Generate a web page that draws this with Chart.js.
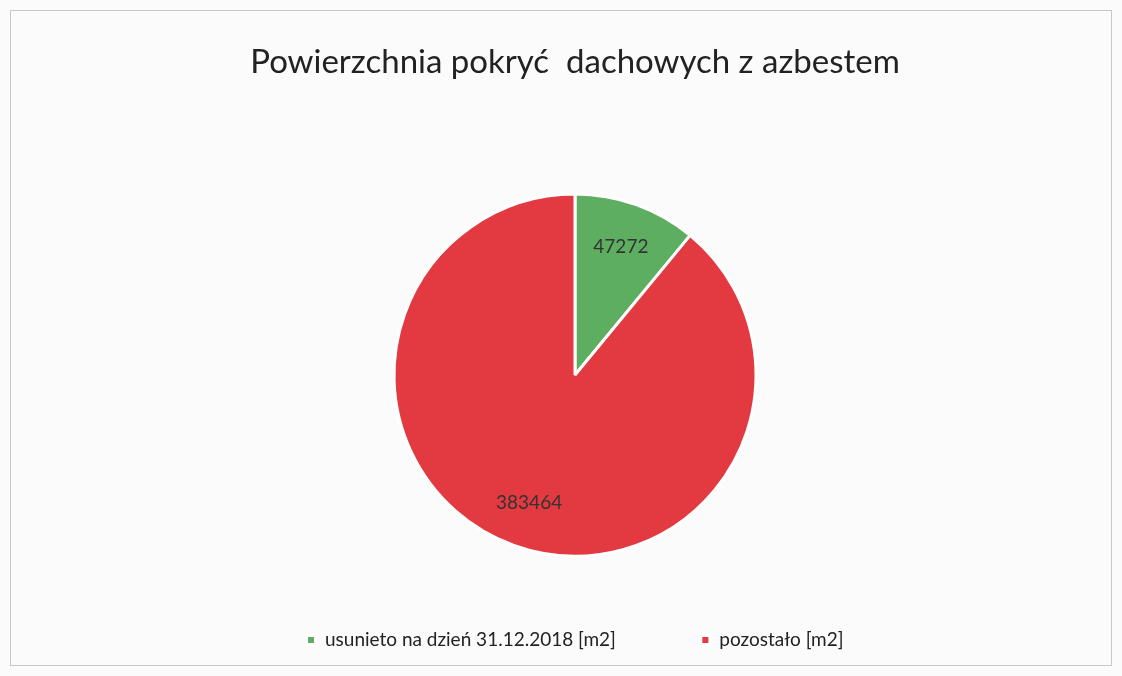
<!DOCTYPE html>
<html>
<head>
<meta charset="utf-8">
<script src="https://cdn.jsdelivr.net/npm/chart.js@4"></script>
<style>
html,body{margin:0;padding:0;background:#fbfbfb;}
#wrap{width:1122px;height:676px;position:relative;}
</style>
</head>
<body>
<div id="wrap"><canvas id="c" width="1122" height="676"></canvas></div>
<script>
const titleText = 'Powierzchnia pokryć  dachowych z azbestem';
const categories = ['usunieto na dzień 31.12.2018 [m2]', 'pozostało [m2]'];
const values = [47272, 383464];
const colors = ['#5dae60', '#e23a40'];

const FONT = 'Lato, "Open Sans", sans-serif';

const bgPlugin = {
  id: 'bg',
  beforeDraw(chart) {
    const ctx = chart.ctx;
    ctx.save();
    ctx.fillStyle = '#fbfbfb';
    ctx.fillRect(0, 0, chart.width, chart.height);
    ctx.strokeStyle = '#c8c8c8';
    ctx.lineWidth = 1;
    ctx.strokeRect(10.5, 10.5, chart.width - 21, chart.height - 21);
    ctx.restore();
  }
};

const labelPlugin = {
  id: 'sliceLabels',
  afterDatasetsDraw(chart) {
    const ctx = chart.ctx;
    const meta = chart.getDatasetMeta(0);
    const ds = chart.data.datasets[0];
    ctx.save();
    ctx.font = '19px ' + FONT;
    ctx.fillStyle = '#333333';
    ctx.textAlign = 'center';
    ctx.textBaseline = 'middle';
    meta.data.forEach((arc, i) => {
      const p = arc.getProps(['x','y','startAngle','endAngle','outerRadius'], true);
      const mid = (p.startAngle + p.endAngle) / 2;
      const r = p.outerRadius * 0.75;
      ctx.fillText(String(ds.data[i]), p.x + Math.cos(mid) * r, p.y + Math.sin(mid) * r);
    });
    ctx.restore();
  }
};

new Chart(document.getElementById('c'), {
  type: 'pie',
  data: {
    labels: categories,
    datasets: [{
      data: values,
      backgroundColor: colors,
      borderColor: '#ffffff',
      borderWidth: 3,
      radius: 181
    }]
  },
  options: {
    responsive: false,
    animation: false,
    layout: { padding: { left: 28, right: 0, top: 0, bottom: 16.5 } },
    plugins: {
      title: {
        display: true,
        text: titleText,
        color: '#222222',
        font: { family: FONT, size: 33, weight: 'normal' },
        padding: { top: 43, bottom: 122 }
      },
      legend: {
        position: 'bottom',
        labels: {
          color: '#222222',
          font: { family: FONT, size: 19 },
          boxWidth: 9,
          boxHeight: 9,
          padding: 85
        }
      },
      tooltip: { enabled: false }
    }
  },
  plugins: [bgPlugin, labelPlugin]
});
</script>
</body>
</html>
